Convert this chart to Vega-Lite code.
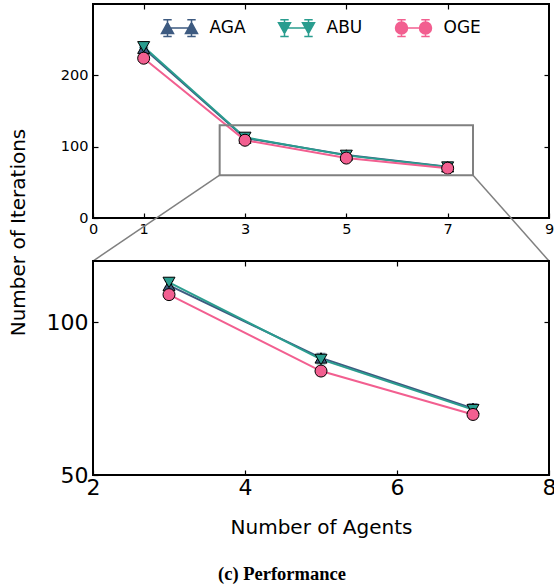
{
  "$schema": "https://vega.github.io/schema/vega-lite/v6.json",
  "padding": {"left": 6, "top": 2, "right": 0, "bottom": 5},
  "bounds": "flush",
  "spacing": 43,
  "background": "white",
  "title": {"text": "(c) Performance", "orient": "bottom", "anchor": "middle", "font": "Liberation Serif", "fontWeight": "bold", "fontSize": 18.5, "color": "black", "offset": 27},
  "datasets": {
    "perf": [
      {"method": "AGA", "agents": 1, "iterations": 238, "lo": 236.5, "hi": 239.5},
      {"method": "AGA", "agents": 3, "iterations": 112, "lo": 110.5, "hi": 113.5},
      {"method": "AGA", "agents": 5, "iterations": 88.3, "lo": 86.8, "hi": 89.8},
      {"method": "AGA", "agents": 7, "iterations": 71.8, "lo": 70.3, "hi": 73.3},
      {"method": "ABU", "agents": 1, "iterations": 240, "lo": 238.5, "hi": 241.5},
      {"method": "ABU", "agents": 3, "iterations": 113, "lo": 111.5, "hi": 114.5},
      {"method": "ABU", "agents": 5, "iterations": 87.8, "lo": 86.3, "hi": 89.3},
      {"method": "ABU", "agents": 7, "iterations": 71.4, "lo": 69.9, "hi": 72.9},
      {"method": "OGE", "agents": 1, "iterations": 224, "lo": 222.5, "hi": 225.5},
      {"method": "OGE", "agents": 3, "iterations": 109, "lo": 107.5, "hi": 110.5},
      {"method": "OGE", "agents": 5, "iterations": 84, "lo": 82.5, "hi": 85.5},
      {"method": "OGE", "agents": 7, "iterations": 69.8, "lo": 68.3, "hi": 71.3}
    ],
    "zoombox": [
      {"x0": 2.5, "x1": 7.5, "y0": 60, "y1": 130}
    ],
    "connectors": [
      {"x0": 2.5, "y0": 60, "x1": 0, "y1": -60.3},
      {"x0": 7.5, "y0": 60, "x1": 9, "y1": -60.3}
    ]
  },
  "vconcat": [
    {
      "width": 456,
      "height": 214,
      "resolve": {"axis": {"x": "independent", "y": "independent"}},
      "layer": [
        {
          "data": {"name": "perf"},
          "mark": {"type": "line", "strokeWidth": 2},
          "encoding": {
            "x": {"field": "agents", "type": "quantitative", "scale": {"domain": [0, 9], "nice": false, "zero": false},
                  "axis": {"orient": "bottom", "values": [0, 1, 3, 5, 7, 9], "labelFontSize": 14.5, "title": null, "labelPadding": 9}},
            "y": {"field": "iterations", "type": "quantitative", "scale": {"domain": [0, 300], "nice": false},
                  "axis": {"orient": "left", "values": [0, 100, 200], "labelFontSize": 14.5, "title": null, "labelPadding": 10}},
            "color": {"field": "method", "type": "nominal", "scale": {"domain": ["AGA", "ABU", "OGE"], "range": ["#3d5a80", "#2a9d8f", "#f25f90"]},
              "legend": {
                "orient": "none", "legendX": 78, "legendY": 15.5, "direction": "horizontal", "columns": 3, "gridAlign": "all",
                "title": null, "labelFont": "DejaVu Sans", "labelFontSize": 17, "labelColor": "black", "labelOffset": 21.5,
                "columnPadding": 28, "symbolSize": 144,
                "encode": {"symbols": {"update": {
                  "shape": {"signal": "datum.value === 'AGA' ? 'M-3,0.9L-1,0.9L-2,-0.9ZM1,0.9L3,0.9L2,-0.9ZM-2,0L2,0M-2,-1.4L-2,1.4M-2.7,-1.4L-1.3,-1.4M-2.7,1.4L-1.3,1.4M2,-1.4L2,1.4M1.3,-1.4L2.7,-1.4M1.3,1.4L2.7,1.4' : datum.value === 'ABU' ? 'M-3,-0.9L-1,-0.9L-2,0.9ZM1,-0.9L3,-0.9L2,0.9ZM-2,0L2,0M-2,-1.4L-2,1.4M-2.7,-1.4L-1.3,-1.4M-2.7,1.4L-1.3,1.4M2,-1.4L2,1.4M1.3,-1.4L2.7,-1.4M1.3,1.4L2.7,1.4' : 'M-1,0A1,1,0,1,1,-3,0A1,1,0,1,1,-1,0ZM3,0A1,1,0,1,1,1,0A1,1,0,1,1,3,0ZM-2,0L2,0M-2,-1.4L-2,1.4M-2.7,-1.4L-1.3,-1.4M-2.7,1.4L-1.3,1.4M2,-1.4L2,1.4M1.3,-1.4L2.7,-1.4M1.3,1.4L2.7,1.4'"},
                  "fill": {"scale": "color", "field": "value"},
                  "stroke": {"scale": "color", "field": "value"},
                  "strokeWidth": {"value": 1.5},
                  "opacity": {"value": 1},
                  "fillOpacity": {"value": 1},
                  "strokeOpacity": {"value": 1}
                }}}
              }}
          }
        },
        {
          "data": {"name": "perf"},
          "mark": {"type": "errorbar", "ticks": {"size": 9}, "thickness": 1.2},
          "encoding": {
            "x": {"field": "agents", "type": "quantitative", "axis": null},
            "y": {"field": "lo", "type": "quantitative", "axis": null},
            "y2": {"field": "hi"},
            "color": {"field": "method", "type": "nominal"}
          }
        },
        {
          "data": {"name": "perf"},
          "transform": [{"filter": "datum.method === 'AGA'"}],
          "mark": {"type": "point", "shape": "triangle-up", "filled": true, "opacity": 1, "size": 144, "stroke": "black", "strokeWidth": 1},
          "encoding": {
            "x": {"field": "agents", "type": "quantitative", "axis": {"orient": "top", "values": [1, 3, 5, 7], "labels": false, "title": null}},
            "y": {"field": "iterations", "type": "quantitative", "axis": {"orient": "right", "values": [100, 200], "labels": false, "title": null}},
            "color": {"field": "method", "type": "nominal"}
          }
        },
        {
          "data": {"name": "perf"},
          "transform": [{"filter": "datum.method === 'ABU'"}],
          "mark": {"type": "point", "shape": "triangle-down", "filled": true, "opacity": 1, "size": 144, "stroke": "black", "strokeWidth": 1},
          "encoding": {
            "x": {"field": "agents", "type": "quantitative", "axis": null},
            "y": {"field": "iterations", "type": "quantitative", "axis": null},
            "color": {"field": "method", "type": "nominal"}
          }
        },
        {
          "data": {"name": "perf"},
          "transform": [{"filter": "datum.method === 'OGE'"}],
          "mark": {"type": "point", "shape": "circle", "filled": true, "opacity": 1, "size": 144, "stroke": "black", "strokeWidth": 1},
          "encoding": {
            "x": {"field": "agents", "type": "quantitative", "axis": null},
            "y": {"field": "iterations", "type": "quantitative", "axis": null},
            "color": {"field": "method", "type": "nominal"}
          }
        },
        {
          "data": {"name": "zoombox"},
          "mark": {"type": "rect", "fill": null, "fillOpacity": 0, "stroke": "#808080", "strokeWidth": 2},
          "encoding": {
            "x": {"field": "x0", "type": "quantitative", "axis": null},
            "x2": {"field": "x1"},
            "y": {"field": "y0", "type": "quantitative", "axis": null},
            "y2": {"field": "y1"}
          }
        },
        {
          "data": {"name": "connectors"},
          "mark": {"type": "rule", "stroke": "#808080", "strokeWidth": 1.5, "clip": false},
          "encoding": {
            "x": {"field": "x0", "type": "quantitative", "axis": null},
            "y": {"field": "y0", "type": "quantitative", "axis": null},
            "x2": {"field": "x1"},
            "y2": {"field": "y1"}
          }
        }
      ]
    },
    {
      "width": 456,
      "height": 214,
      "resolve": {"axis": {"x": "independent", "y": "independent"}},
      "layer": [
        {
          "data": {"name": "perf"},
          "transform": [{"filter": "datum.agents >= 3"}],
          "mark": {"type": "line", "strokeWidth": 2},
          "encoding": {
            "x": {"field": "agents", "type": "quantitative", "scale": {"domain": [2, 8], "nice": false, "zero": false},
                  "axis": {"orient": "bottom", "values": [2, 4, 6, 8], "labelFontSize": 22, "labelPadding": 7, "title": "Number of Agents", "titleFontSize": 20, "titleFontWeight": "normal", "titlePadding": 19}},
            "y": {"field": "iterations", "type": "quantitative", "scale": {"domain": [50, 120], "nice": false, "zero": false},
                  "axis": {"orient": "left", "values": [50, 100], "labelFontSize": 22, "labelPadding": 10, "title": "Number of Iterations", "titleFontSize": 20, "titleFontWeight": "normal", "titleAngle": -90, "titleX": -85, "titleY": -29, "titleBaseline": "top", "titleAlign": "center"}},
            "color": {"field": "method", "type": "nominal"}
          }
        },
        {
          "data": {"name": "perf"},
          "transform": [{"filter": "datum.agents >= 3"}],
          "mark": {"type": "errorbar", "ticks": {"size": 9}, "thickness": 1.2},
          "encoding": {
            "x": {"field": "agents", "type": "quantitative", "axis": null},
            "y": {"field": "lo", "type": "quantitative", "axis": null},
            "y2": {"field": "hi"},
            "color": {"field": "method", "type": "nominal"}
          }
        },
        {
          "data": {"name": "perf"},
          "transform": [{"filter": "datum.agents >= 3 && datum.method === 'AGA'"}],
          "mark": {"type": "point", "shape": "triangle-up", "filled": true, "opacity": 1, "size": 144, "stroke": "black", "strokeWidth": 1},
          "encoding": {
            "x": {"field": "agents", "type": "quantitative", "axis": {"orient": "top", "values": [4, 6], "labels": false, "title": null}},
            "y": {"field": "iterations", "type": "quantitative", "axis": {"orient": "right", "values": [100], "labels": false, "title": null}},
            "color": {"field": "method", "type": "nominal"}
          }
        },
        {
          "data": {"name": "perf"},
          "transform": [{"filter": "datum.agents >= 3 && datum.method === 'ABU'"}],
          "mark": {"type": "point", "shape": "triangle-down", "filled": true, "opacity": 1, "size": 144, "stroke": "black", "strokeWidth": 1},
          "encoding": {
            "x": {"field": "agents", "type": "quantitative", "axis": null},
            "y": {"field": "iterations", "type": "quantitative", "axis": null},
            "color": {"field": "method", "type": "nominal"}
          }
        },
        {
          "data": {"name": "perf"},
          "transform": [{"filter": "datum.agents >= 3 && datum.method === 'OGE'"}],
          "mark": {"type": "point", "shape": "circle", "filled": true, "opacity": 1, "size": 144, "stroke": "black", "strokeWidth": 1},
          "encoding": {
            "x": {"field": "agents", "type": "quantitative", "axis": null},
            "y": {"field": "iterations", "type": "quantitative", "axis": null},
            "color": {"field": "method", "type": "nominal"}
          }
        }
      ]
    }
  ],
  "config": {
    "font": "DejaVu Sans",
    "view": {"stroke": "black", "strokeWidth": 2},
    "axis": {"labelFont": "DejaVu Sans", "titleFont": "DejaVu Sans", "labelColor": "black", "titleColor": "black", "domain": false, "grid": false, "ticks": true, "tickColor": "black", "tickSize": -5, "tickWidth": 1.2, "labelFlush": false, "labelOverlap": false}
  }
}
